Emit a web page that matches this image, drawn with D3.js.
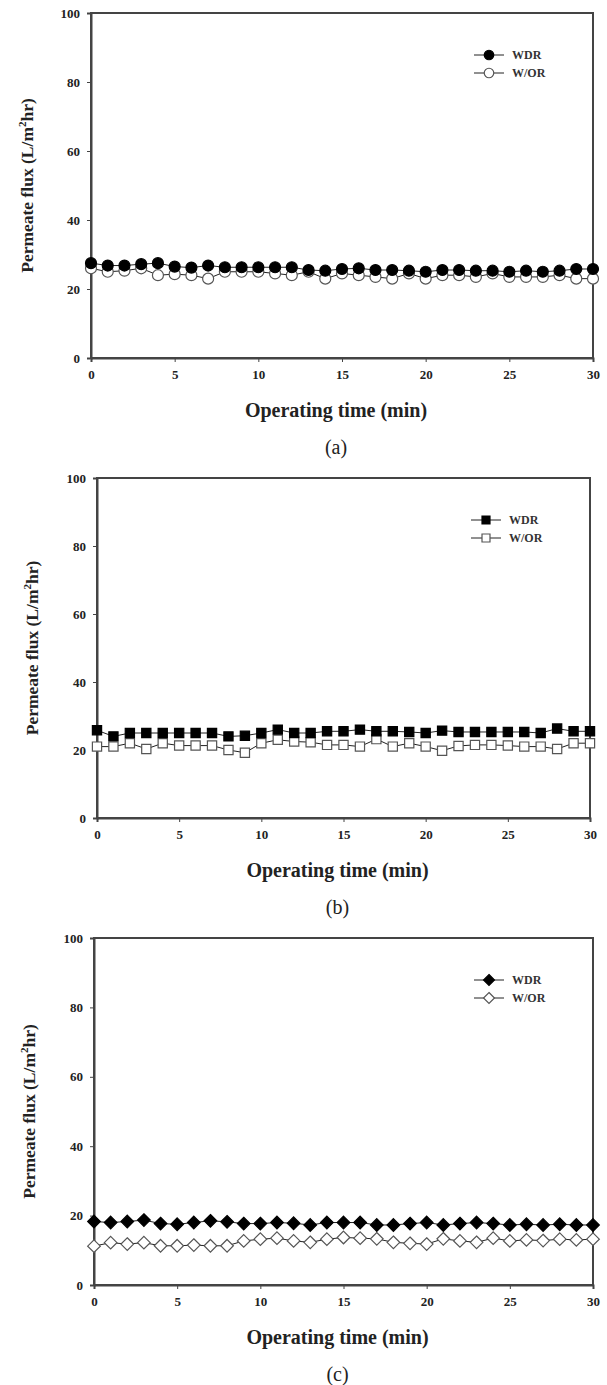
<!DOCTYPE html>
<html>
<head>
<meta charset="utf-8">
<script src="https://cdn.jsdelivr.net/npm/d3@7"></script>
<style>
  body { margin: 0; background: #fff; }
  text { font-family: "Liberation Serif", "Times New Roman", serif; }
</style>
</head>
<body>
<div id="chart"></div>
<script>
var width = 607, height = 1385;

var time = d3.range(0, 31);
var xTicks = [0, 5, 10, 15, 20, 25, 30];
var yTicks = [0, 20, 40, 60, 80, 100];
var seriesNames = ["WDR", "W/OR"];
var captions = ["(a)", "(b)", "(c)"];
var markers = ["circle", "square", "diamond"];

var wdrA = [27.5, 26.8, 26.8, 27.2, 27.5, 26.5, 26.2, 26.8, 26.3, 26.3, 26.3, 26.3, 26.3, 25.5, 25.3, 25.8, 26, 25.5, 25.5, 25.3, 25, 25.5, 25.5, 25.3, 25.3, 25, 25.3, 25, 25.3, 25.8, 25.8];
var worA = [26, 25, 25.3, 26, 24, 24.3, 24, 23, 25, 25, 25, 24.5, 24, 25, 23, 24.5, 24, 23.5, 23, 24.5, 23, 24, 24, 23.5, 24.5, 23.5, 23.5, 23.5, 24, 23, 23];
var wdrB = [25.8, 24, 25, 25, 25, 25, 25, 25, 24, 24.2, 25, 26, 25, 25, 25.5, 25.5, 26, 25.5, 25.5, 25.3, 25, 25.7, 25.3, 25.3, 25.3, 25.3, 25.3, 25, 26.3, 25.5, 25.5];
var worB = [21, 21, 22, 20.3, 22, 21.3, 21.3, 21.3, 20, 19.2, 22, 23, 22.5, 22.3, 21.5, 21.5, 21, 23.2, 21, 22, 21, 19.8, 21.2, 21.5, 21.5, 21.3, 21, 21, 20.3, 22, 22];
var wdrC = [18.3, 18, 18.3, 18.7, 17.7, 17.5, 18, 18.5, 18.2, 17.7, 17.7, 18, 17.8, 17.3, 18, 18, 18, 17.3, 17.3, 17.7, 18, 17.3, 17.7, 18, 17.7, 17.3, 17.5, 17.3, 17.5, 17.3, 17.3];
var worC = [11.2, 12.2, 11.8, 12.2, 11.3, 11.3, 11.5, 11.3, 11.3, 12.7, 13.2, 13.5, 12.7, 12.3, 13.2, 13.7, 13.5, 13.3, 12.3, 12, 11.8, 13.3, 12.7, 12.3, 13.5, 12.7, 13, 12.8, 13.2, 13, 13.2];

var panels = [
  {x0: 91, x1: 593, top: 13, bottom: 358, titleX: 33, wdr: wdrA, wor: worA},
  {x0: 97, x1: 590, top: 478, bottom: 818, titleX: 38, wdr: wdrB, wor: worB},
  {x0: 94, x1: 593, top: 938, bottom: 1285, titleX: 35, wdr: wdrC, wor: worC}
];

var svg = d3.select("#chart").append("svg")
    .attr("width", width)
    .attr("height", height);

// square-ish diamond (rotated square), d3's own diamond is too tall
var squareDiamond = {
  draw: function (ctx, size) {
    var r = Math.sqrt(size / 2);
    ctx.moveTo(0, -r); ctx.lineTo(r, 0); ctx.lineTo(0, r); ctx.lineTo(-r, 0); ctx.closePath();
  }
};

function symbolPath(kind, size) {
  var t = kind == "circle" ? d3.symbolCircle : kind == "square" ? d3.symbolSquare : squareDiamond;
  return d3.symbol().type(t).size(size)();
}

panels.forEach(function (p, i) {
  var x = d3.scaleLinear().domain([0, 30]).range([p.x0, p.x1]);
  var y = d3.scaleLinear().domain([0, 100]).range([p.bottom, p.top]);
  var g = svg.append("g");
  var kind = markers[i];
  var size = kind == "circle" ? 95 : kind == "square" ? 85 : 80;

  // frame
  g.append("rect")
    .attr("x", p.x0).attr("y", p.top)
    .attr("width", p.x1 - p.x0).attr("height", p.bottom - p.top)
    .attr("fill", "none").attr("stroke", "#444").attr("stroke-width", 2);

  var xa = g.append("g").attr("transform", "translate(0," + p.bottom + ")")
    .call(d3.axisBottom(x).tickValues(xTicks).tickSize(4).tickPadding(8));
  var ya = g.append("g").attr("transform", "translate(" + p.x0 + ",0)")
    .call(d3.axisLeft(y).tickValues(yTicks).tickSize(4).tickPadding(7));
  [xa, ya].forEach(function (a) {
    a.select(".domain").attr("stroke", "#444").attr("stroke-width", 2);
    a.selectAll(".tick line").attr("stroke", "#444");
    a.selectAll("text").attr("font-size", 13).attr("font-weight", "bold")
      .attr("font-family", "Liberation Serif").attr("fill", "#222");
  });

  g.append("text")
    .attr("x", (p.x0 + p.x1) / 2 - 6).attr("y", p.bottom + 59)
    .attr("text-anchor", "middle").attr("font-size", 20).attr("font-weight", "bold")
    .attr("fill", "#222").text("Operating time (min)");

  var yt = g.append("text")
    .attr("transform", "translate(" + p.titleX + "," + ((p.top + p.bottom) / 2) + ") rotate(-90)")
    .attr("text-anchor", "middle").attr("font-size", 17.5).attr("font-weight", "bold")
    .attr("fill", "#222");
  yt.append("tspan").text("Permeate flux (L/m");
  yt.append("tspan").attr("font-size", 11).attr("dy", -7).text("2");
  yt.append("tspan").attr("dy", 7).text("hr)");

  g.append("text")
    .attr("x", (p.x0 + p.x1) / 2 - 6).attr("y", p.bottom + 96)
    .attr("text-anchor", "middle").attr("font-size", 20)
    .attr("fill", "#222").text(captions[i]);

  var line = d3.line().x(function (d, j) { return x(time[j]); }).y(function (d) { return y(d); });

  [p.wor, p.wdr].forEach(function (vals, k) {
    var filled = k == 1;
    g.append("path").datum(vals).attr("d", line)
      .attr("fill", "none").attr("stroke", "#222").attr("stroke-width", 1);
    g.selectAll(".m" + k).data(vals).enter().append("path")
      .attr("class", "m" + k)
      .attr("d", symbolPath(kind, size))
      .attr("transform", function (d, j) { return "translate(" + x(time[j]) + "," + y(d) + ")"; })
      .attr("fill", filled ? "#000" : "#fff")
      .attr("stroke", filled ? "#000" : "#555")
      .attr("stroke-width", 1.2);
  });

  // legend
  var lx = p.x1 - 119, ly = p.top + 42;
  seriesNames.forEach(function (name, k) {
    var yy = ly + k * 18;
    var filled = k == 0;
    g.append("line").attr("x1", lx).attr("x2", lx + 30).attr("y1", yy).attr("y2", yy)
      .attr("stroke", "#222").attr("stroke-width", 1);
    g.append("path").attr("d", symbolPath(kind, size * 0.75))
      .attr("transform", "translate(" + (lx + 15) + "," + yy + ")")
      .attr("fill", filled ? "#000" : "#fff").attr("stroke", filled ? "#000" : "#555")
      .attr("stroke-width", 1.2);
    g.append("text").attr("x", lx + 38).attr("y", yy + 4)
      .attr("font-size", 12).attr("font-weight", "bold").attr("fill", "#333").text(name);
  });
});
</script>
</body>
</html>
